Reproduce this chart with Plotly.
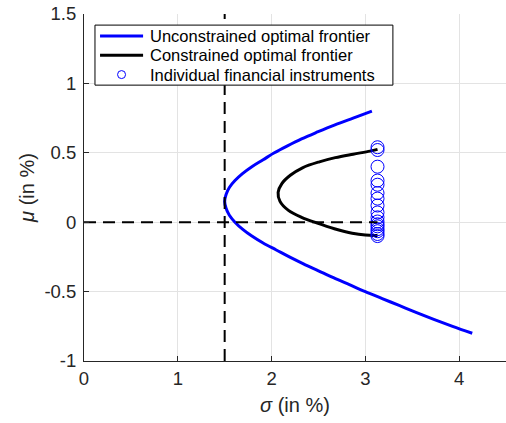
import plotly.graph_objects as go

# Unconstrained mean-variance frontier (sigma, mu in %)
unc_sigma = [3.07, 2.87, 2.67, 2.49, 2.32, 2.17, 2.03, 1.91, 1.79, 1.69, 1.61, 1.55, 1.515, 1.50,
             1.515, 1.55, 1.61, 1.69, 1.79, 1.91, 2.05, 2.19, 2.34, 2.50, 2.66, 2.83, 3.00,
             3.18, 3.36, 3.54, 3.73, 3.93, 4.14]
unc_mu = [0.80, 0.75, 0.70, 0.65, 0.60, 0.55, 0.50, 0.45, 0.40, 0.35, 0.30, 0.25, 0.20, 0.15,
          0.10, 0.05, 0.00, -0.05, -0.10, -0.15, -0.20, -0.25, -0.30, -0.35, -0.40, -0.45, -0.50,
          -0.55, -0.60, -0.65, -0.70, -0.75, -0.80]

# Constrained (no short selling) frontier
con_sigma = [3.13, 3.05, 2.87, 2.68, 2.51, 2.33, 2.20, 2.11, 2.07, 2.09, 2.18, 2.32, 2.48,
             2.67, 2.86, 3.00, 3.13]
con_mu = [0.525, 0.512, 0.490, 0.465, 0.435, 0.392, 0.338, 0.278, 0.215, 0.150, 0.085, 0.035,
          -0.005, -0.047, -0.080, -0.093, -0.095]

# Individual instruments
inst_mu = [0.54, 0.52, 0.40, 0.30, 0.27, 0.21, 0.17, 0.12, 0.07, 0.035, 0.005, -0.015,
           -0.03, -0.05, -0.065, -0.085, -0.10]
inst_sigma = [3.13] * len(inst_mu)

# Reference lines: minimum-variance sigma and zero return
min_var_sigma = 1.5
ref_x_range = [0, 3.13]

x_range = [0, 4.5]
y_range = [-1, 1.5]
x_ticks = [0, 1, 2, 3, 4]
x_tick_text = ["0", "1", "2", "3", "4"]
y_ticks = [-1, -0.5, 0, 0.5, 1, 1.5]
y_tick_text = ["-1", "-0.5", "0", "0.5", "1", "1.5"]

legend_labels = ["Unconstrained optimal frontier", "Constrained optimal frontier",
                 "Individual financial instruments"]

font = "Liberation Sans, Arial, sans-serif"
axis_col = "#262626"
grid_col = "#e3e3e3"
blue = "#0000ff"

fig = go.Figure()
fig.add_trace(go.Scatter(x=unc_sigma, y=unc_mu, mode="lines",
                         line=dict(color=blue, width=3, shape="spline"),
                         name=legend_labels[0], showlegend=False))
fig.add_trace(go.Scatter(x=con_sigma, y=con_mu, mode="lines",
                         line=dict(color="black", width=3, shape="spline"),
                         name=legend_labels[1], showlegend=False))
fig.add_trace(go.Scatter(x=inst_sigma, y=inst_mu, mode="markers",
                         marker=dict(symbol="circle-open", size=13, color=blue, line=dict(width=1)),
                         name=legend_labels[2], showlegend=False))
fig.add_trace(go.Scatter(x=ref_x_range, y=[0, 0], mode="lines",
                         line=dict(color="black", width=2, dash="12px,7px"),
                         showlegend=False, hoverinfo="skip"))
fig.add_trace(go.Scatter(x=[min_var_sigma, min_var_sigma], y=y_range, mode="lines",
                         line=dict(color="black", width=2, dash="12px,7px"),
                         showlegend=False, hoverinfo="skip"))

# Boxed legend in the upper-left corner (paper coordinates), compact row spacing
box = dict(x0=0.026, x1=0.732, y0=0.795, y1=0.968)
row_y = [0.9366, 0.881, 0.8254]
key_x0, key_x1, text_x = 0.038, 0.140, 0.152
shapes = [dict(type="rect", xref="paper", yref="paper", **box,
               line=dict(color="black", width=1), fillcolor="white", layer="above")]
shapes.append(dict(type="line", xref="paper", yref="paper", x0=key_x0, x1=key_x1,
                   y0=row_y[0], y1=row_y[0], line=dict(color=blue, width=3), layer="above"))
shapes.append(dict(type="line", xref="paper", yref="paper", x0=key_x0, x1=key_x1,
                   y0=row_y[1], y1=row_y[1], line=dict(color="black", width=3), layer="above"))
shapes.append(dict(type="circle", xref="paper", yref="paper", xsizemode="pixel", ysizemode="pixel",
                   xanchor=(key_x0 + key_x1) / 2, yanchor=row_y[2], x0=-4, x1=4, y0=-4, y1=4,
                   line=dict(color=blue, width=1), layer="above"))
annotations = [dict(xref="paper", yref="paper", x=text_x, y=yy, text=lab, showarrow=False,
                    xanchor="left", yanchor="middle",
                    font=dict(family=font, size=16.5, color="black"))
               for yy, lab in zip(row_y, legend_labels)]

axis_common = dict(showgrid=True, gridcolor=grid_col, gridwidth=1, zeroline=False, showline=True,
                   linecolor=axis_col, linewidth=1, ticks="inside", ticklen=5, tickcolor=axis_col,
                   tickfont=dict(family=font, size=18.5, color=axis_col), mirror=False)

fig.update_layout(
    width=506, height=423,
    margin=dict(l=84, r=0, t=14, b=62),
    paper_bgcolor="white", plot_bgcolor="white",
    font=dict(family=font, color=axis_col),
    xaxis=dict(range=x_range, tickvals=x_ticks, ticktext=x_tick_text, ticklabelstandoff=1,
               title=dict(text="<i>σ</i> (in %)", font=dict(family=font, size=20, color=axis_col), standoff=9),
               **axis_common),
    yaxis=dict(range=y_range, tickvals=y_ticks, ticktext=y_tick_text, ticklabelstandoff=3,
               title=dict(text="<i>μ</i> (in %)", font=dict(family=font, size=20, color=axis_col), standoff=4),
               **axis_common),
    shapes=shapes,
    annotations=annotations,
    showlegend=False,
)

fig.write_html("out.html")
